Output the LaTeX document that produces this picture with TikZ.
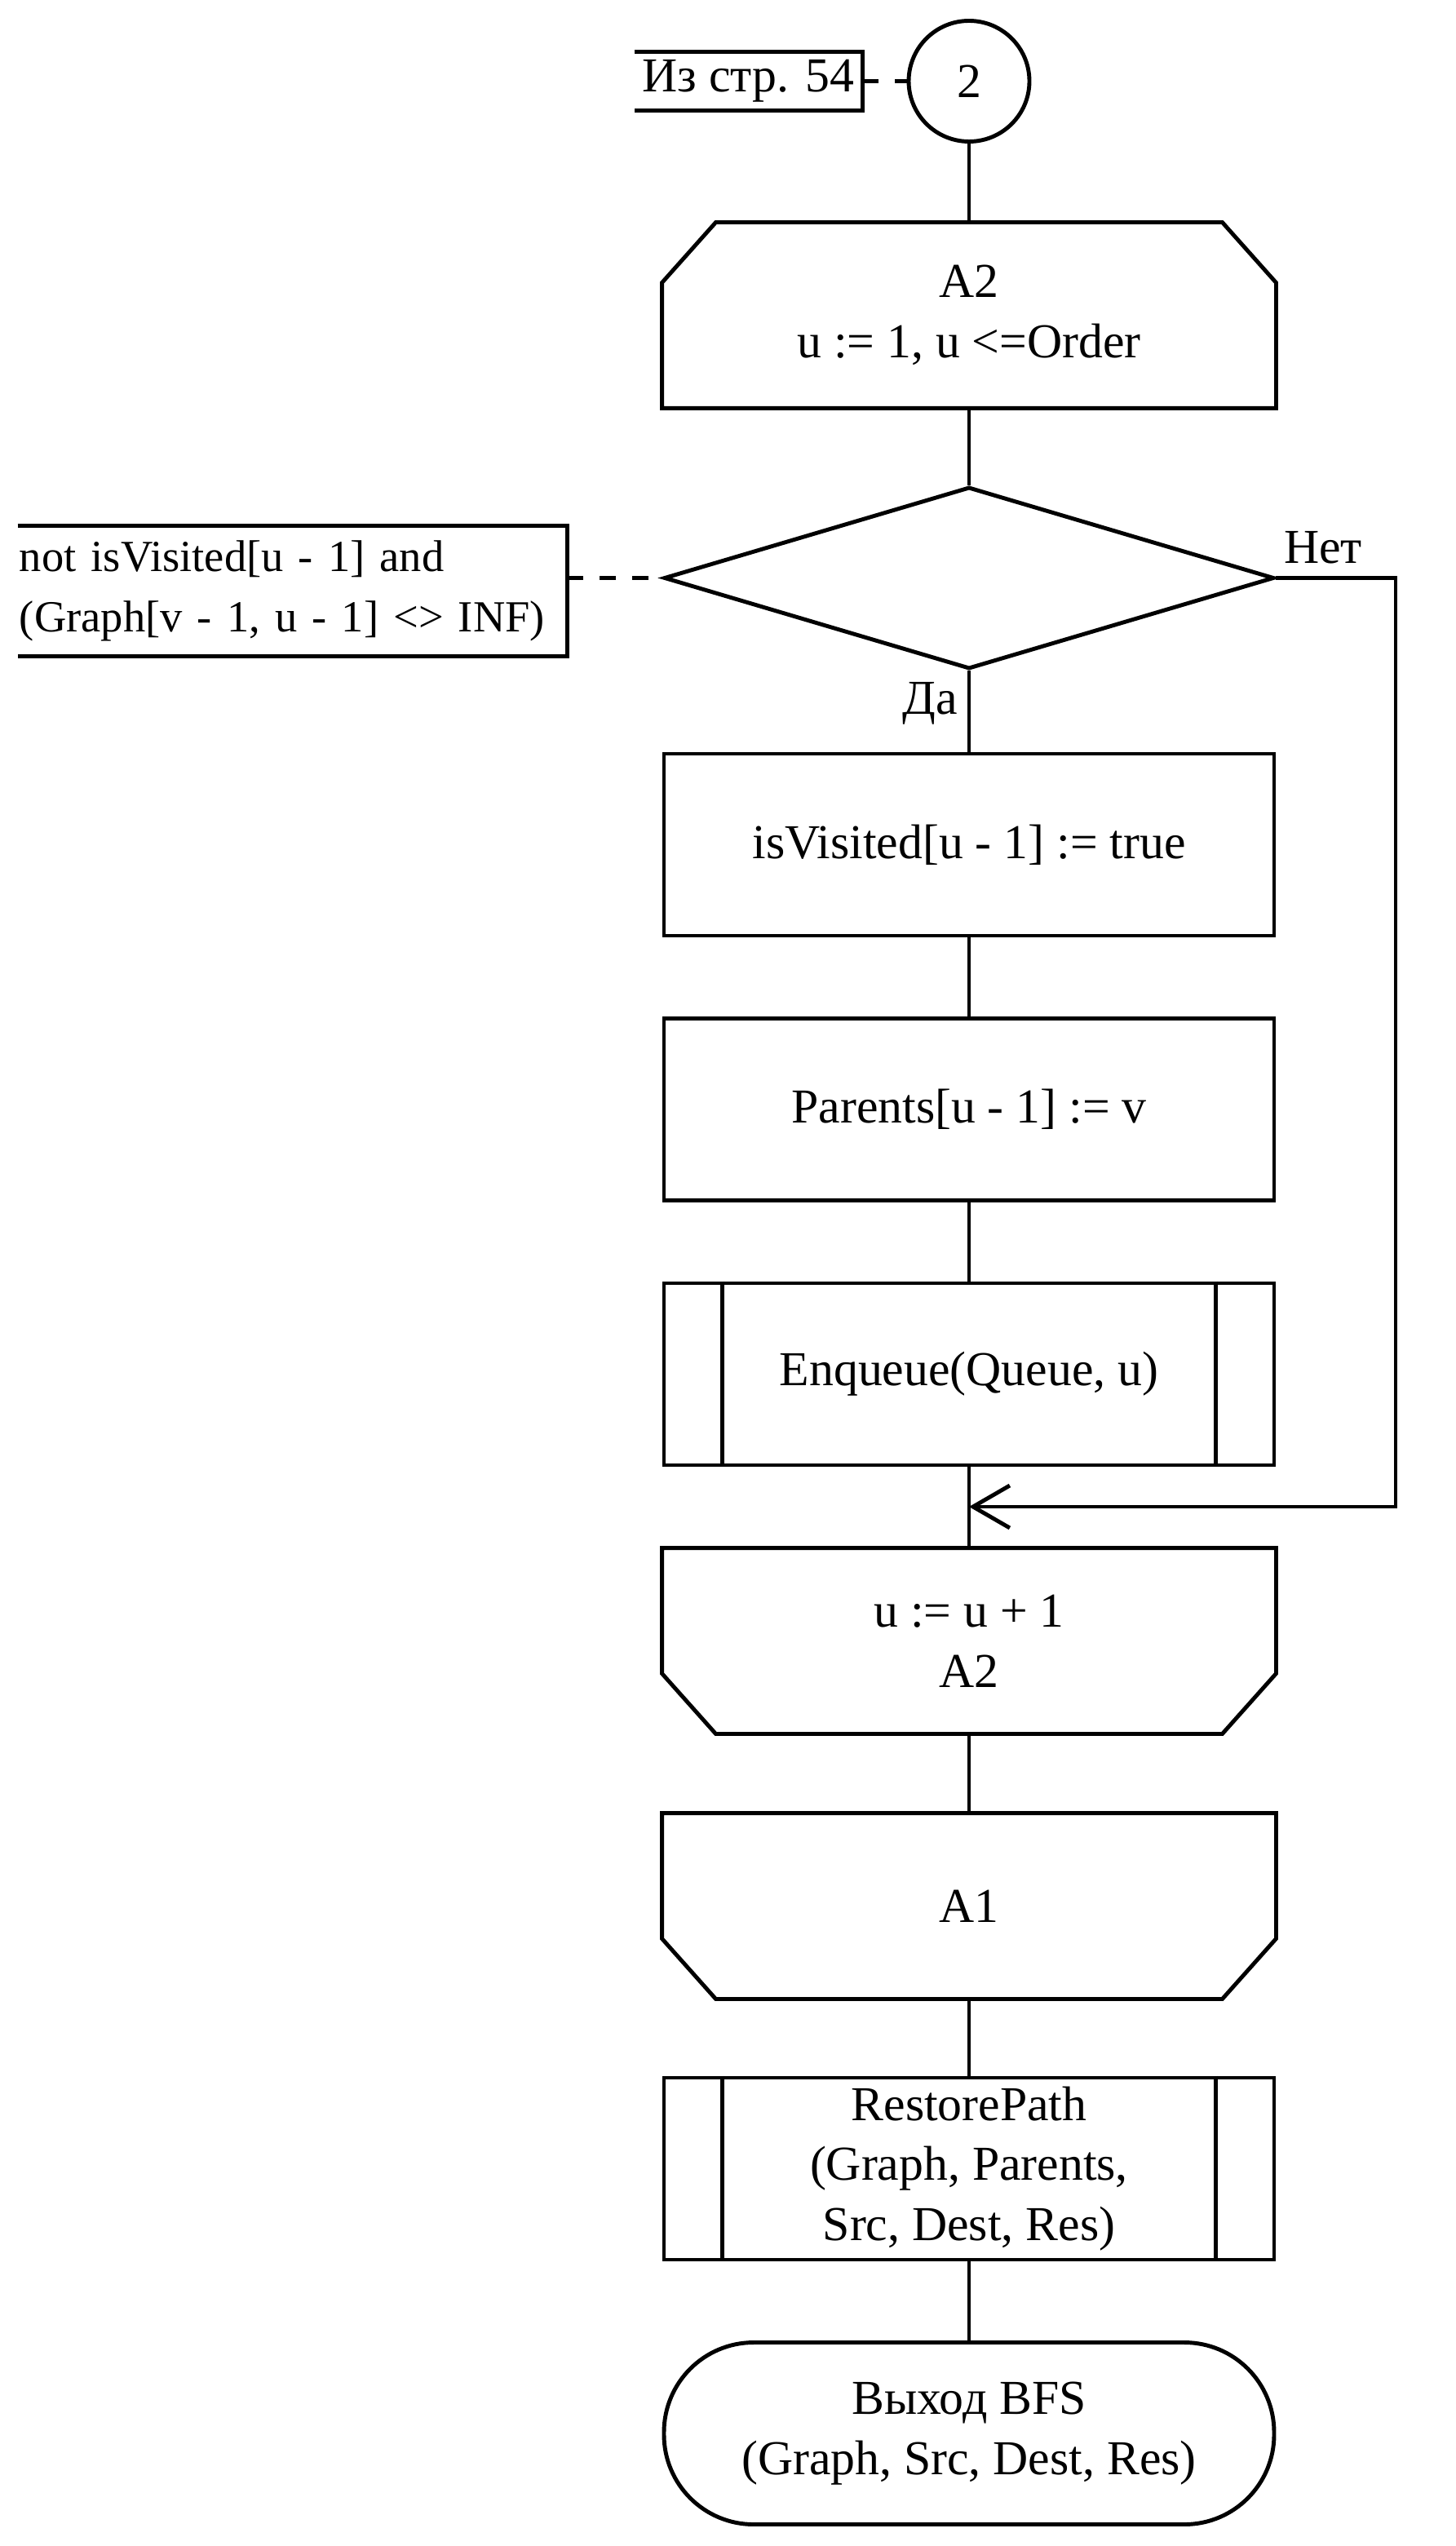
\documentclass[tikz,border=0pt]{standalone}
\usepackage{fontspec}
\setmainfont{Liberation Serif}
\usepackage{tikz}
\usetikzlibrary{shapes.geometric,arrows.meta}

\tikzset{
  blk/.style={rectangle, minimum width=7.48cm, minimum height=2.23cm, inner sep=0pt, align=center},
  proc/.style={blk, draw},
  pre/.style={blk, draw},
  loopbox/.style={blk},
  term/.style={blk, draw, rounded corners=1.1cm},
  cond/.style={diamond, draw, minimum width=7.48cm, minimum height=2.23cm, inner sep=0pt},
  conn/.style={circle, draw, minimum size=1.48cm, inner sep=0pt},
  note/.style={rectangle, inner sep=0pt},
  notel/.style={dash pattern=on 2mm off 2mm},
  lbl/.style={inner sep=0pt}
}

\begin{document}
\begin{tikzpicture}[line width=1.4pt, every node/.style={font=\fontsize{17}{21}\selectfont}]
\useasboundingbox (0,0) rectangle (17.85,-31.21);

\node (c2) at (11.88,-0.995) [conn] {2};
\node (from54) at (9.175,-0.995) [note, minimum width=2.75cm, minimum height=0.67cm] {Из стр. 54} edge[-, notel] (c2);
\draw (from54.north west) -- (from54.north east) -- (from54.south east) -- (from54.south west);

\node (a2) at (11.88,-3.865) [loopbox] {A2\\u := 1, u <=Order} edge[-] (c2);
\draw ([xshift=6.6mm]a2.north west) -- ([xshift=-6.6mm]a2.north east) -- ([yshift=-7.4mm]a2.north east)
  -- (a2.south east) -- (a2.south west) -- ([yshift=-7.4mm]a2.north west) -- cycle;

\node (dia) at (11.88,-7.085) [cond] {} edge[-] (a2);
\node (chk) at (3.585,-7.245) [note, minimum height=1.55cm, text width=6.69cm, align=left,
  font=\fontsize{15.5}{21}\selectfont] {not isVisited[u - 1] and\\(Graph[v - 1, u - 1] <> INF)};
\draw (chk.north west) -- (chk.north east) -- (chk.south east) -- (chk.south west);
\draw[notel] (chk.east |- dia.west) -- (dia.west);

\node (no) at (16.22,-6.71) [lbl] {Нет};
\node (yes) at (11.40,-8.62) [lbl] {Да};

\node (vis) at (11.88,-10.355) [proc] {isVisited[u - 1] := true} edge[-] (dia);
\node (par) at (11.88,-13.6) [proc] {Parents[u - 1] := v} edge[-] (vis);

\node (enq) at (11.88,-16.845) [pre] {Enqueue(Queue, u)} edge[-] (par);
\draw ([xshift=7.4mm]enq.north west) -- ([xshift=7.4mm]enq.south west);
\draw ([xshift=-7.4mm]enq.north east) -- ([xshift=-7.4mm]enq.south east);

\node (u1) at (11.88,-20.115) [loopbox] {u := u + 1\\A2} edge[-] (enq);
\draw (u1.north west) -- (u1.north east) -- ([yshift=7.4mm]u1.south east) -- ([xshift=-6.6mm]u1.south east)
  -- ([xshift=6.6mm]u1.south west) -- ([yshift=7.4mm]u1.south west) -- cycle;

% false branch
\coordinate (merge) at (11.88,-18.47);
\coordinate (turn) at (17.11,-7.085);
\draw[-{Straight Barb[length=4.5mm,width=5.2mm]}] (dia.east) -- (turn) |- (merge);

\node (a1) at (11.88,-23.365) [loopbox] {A1} edge[-] (u1);
\draw (a1.north west) -- (a1.north east) -- ([yshift=7.4mm]a1.south east) -- ([xshift=-6.6mm]a1.south east)
  -- ([xshift=6.6mm]a1.south west) -- ([yshift=7.4mm]a1.south west) -- cycle;

\node (rp) at (11.88,-26.585) [pre] {RestorePath\\(Graph, Parents,\\Src, Dest, Res)} edge[-] (a1);
\draw ([xshift=7.4mm]rp.north west) -- ([xshift=7.4mm]rp.south west);
\draw ([xshift=-7.4mm]rp.north east) -- ([xshift=-7.4mm]rp.south east);

\node (exit) at (11.88,-29.83) [term] {Выход BFS\\(Graph, Src, Dest, Res)} edge[-] (rp);
\end{tikzpicture}
\end{document}
